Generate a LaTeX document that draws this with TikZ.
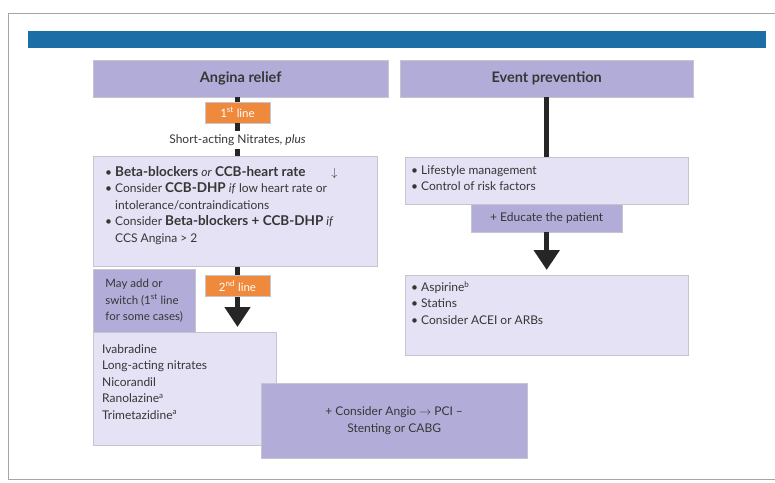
\documentclass[tikz,border=0pt]{standalone}
\usepackage{fontspec}
\setmainfont{Lato}
\usepackage{xcolor}
\definecolor{Bar}{HTML}{1B6FA6}
\definecolor{Lilac}{HTML}{B2ADD8}
\definecolor{Mist}{HTML}{E4E2F4}
\definecolor{Amber}{HTML}{EF893B}
\definecolor{Rim}{HTML}{C6C5CE}
\definecolor{Ink}{HTML}{363636}
\usetikzlibrary{arrows.meta,positioning,backgrounds}
\newcommand\heavy[1]{{\fontsize{13.5}{16.5}\selectfont\bfseries #1}}

\begin{document}
\begin{tikzpicture}[x=1pt,y=-1pt,
  every node/.style={font=\fontsize{12}{16.5}\selectfont,text=Ink},
  head/.style={anchor=north west,fill=Lilac,draw=Rim,inner sep=0pt,
    font=\fontsize{14.5}{16}\selectfont\bfseries},
  pane/.style={anchor=north west,fill=Mist,draw=Rim,inner sep=0pt},
  tag/.style={fill=Amber,draw=Rim,text=white,minimum width=65pt,
    minimum height=21pt,inner sep=0pt,font=\fontsize{11.5}{13}\selectfont},
  note/.style={anchor=north west,align=left,inner sep=0pt},
  link/.style={line width=4.5pt,draw=black!85},
  bigarrow/.style={line width=5.5pt,draw=black!85,
    -{Triangle[width=25pt,length=20pt]}}
]
\useasboundingbox (0,0) rectangle (775,482);
\draw[black!35] (776,13) -- (8,13) -- (8,479) -- (776,479);
\fill[Bar] (28,31) rectangle (766,48);

% headers
\node[head,minimum width=295pt,minimum height=37pt] (angina) at (93,60) {Angina relief};
\node[head,minimum width=293pt,minimum height=37pt] (event) at (400,60) {Event prevention};

% angina relief column
\node[tag] (first) at (237.5,112.5) {1\textsuperscript{st} line};
\node (nitr) at (237.5,140) {Short-acting Nitrates, \textit{plus}};
\node[pane,minimum width=284pt,minimum height=110pt] (bb) at (93,156) {};
\node[note] (bbtext) at (105,166) {\textbullet\ \heavy{Beta-blockers} \textit{or} \heavy{CCB-heart rate}\hspace{26pt}$\downarrow$\\
  \textbullet\ Consider \heavy{CCB-DHP} \textit{if} low heart rate or\\
  \phantom{\textbullet\ }intolerance/contraindications\\
  \textbullet\ Consider \heavy{Beta-blockers + CCB-DHP} \textit{if}\\
  \phantom{\textbullet\ }CCS Angina > 2};
\node[tag] (second) at (237.5,286) {2\textsuperscript{nd} line};
\node[pane,fill=Lilac,minimum width=102pt,minimum height=63pt,align=left,
  font=\fontsize{11.5}{16.5}\selectfont] (may) at (93,269)
  {May add or\\switch (1\textsuperscript{st} line\\for some cases)};
\node[pane,minimum width=183pt,minimum height=113pt] (ivab) at (93,332) {};
\node[note] (ivabtext) at (102,344) {Ivabradine\\Long-acting nitrates\\Nicorandil\\
  Ranolazine\textsuperscript{a}\\Trimetazidine\textsuperscript{a}};
\node[pane,fill=Lilac,minimum width=266pt,minimum height=75pt,align=center] (angio) at (261,383)
  {+ Consider Angio $\rightarrow$ PCI --\\Stenting or CABG};

% event prevention column
\node[pane,minimum width=283pt,minimum height=47pt] (life) at (405,157) {};
\node[note] (lifetext) at (411,165) {\textbullet\ Lifestyle management\\\textbullet\ Control of risk factors};
\node[pane,fill=Lilac,minimum width=151pt,minimum height=28pt] (edu) at (471,204) {+ Educate the patient};
\node[pane,minimum width=283pt,minimum height=80pt] (asp) at (405,275) {};
\node[note] (asptext) at (411,281) {\textbullet\ Aspirine\textsuperscript{b}\\\textbullet\ Statins\\
  \textbullet\ Consider ACEI or ARBs};

% connectors
\draw[link] (first.north |- angina.south) -- (first.north);
\draw[link] (first.south) -- (nitr.north);
\draw[link] (nitr.south) -- (nitr.south |- bb.north);
\begin{scope}[on background layer]
\draw[bigarrow,shorten >=5pt] (bb.south -| second) -- (ivab.north -| second);
\end{scope}
\draw[link] (event.south) -- (life.north);
\draw[bigarrow,shorten >=5pt] (edu.south) -- (asp.north -| edu.south);
\end{tikzpicture}
\end{document}
